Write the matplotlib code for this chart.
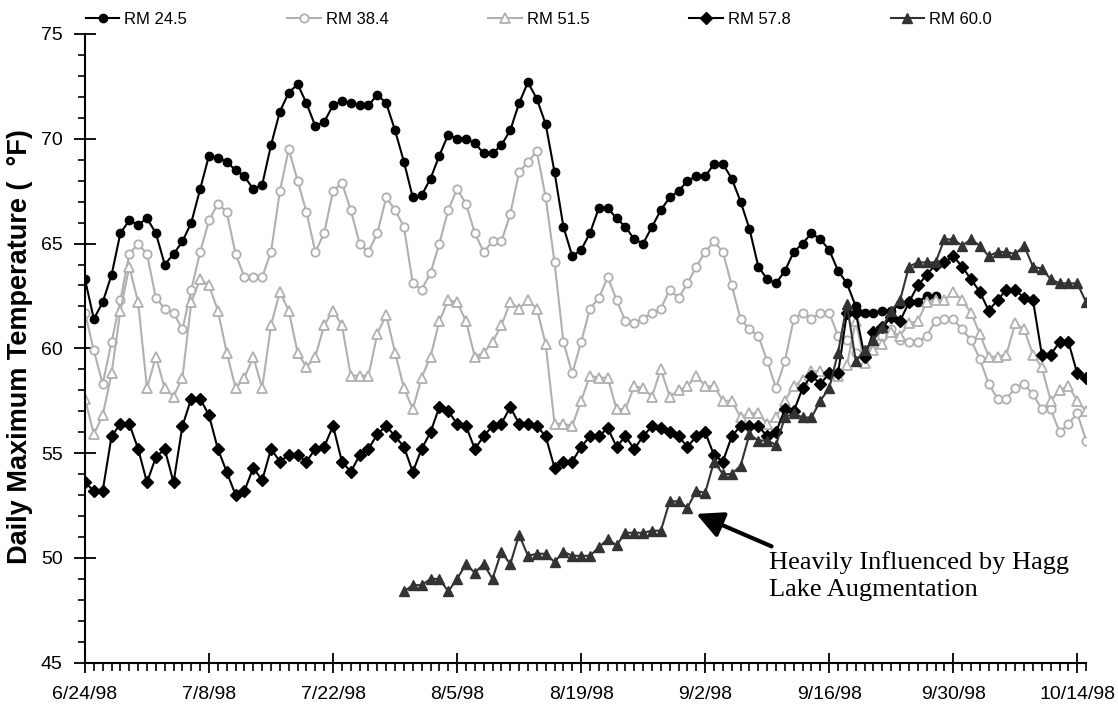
import matplotlib
matplotlib.use("Agg")
import matplotlib.pyplot as plt
import matplotlib.dates as mdates
from matplotlib.ticker import MultipleLocator
import pandas as pd

plt.rcParams['font.family'] = ['Liberation Sans', 'DejaVu Sans']

# Daily maximum stream temperatures (deg F), one value per day from 6/24/98
dates = pd.date_range('1998-06-24', periods=114, freq='D')

rm_24_5 = [
    63.3, 61.4, 62.2, 63.5, 65.5, 66.1, 65.9, 66.2, 65.5, 64.0,
    64.5, 65.1, 66.0, 67.6, 69.2, 69.1, 68.9, 68.5, 68.2, 67.6,
    67.8, 69.7, 71.3, 72.2, 72.6, 71.7, 70.6, 70.8, 71.6, 71.8,
    71.7, 71.6, 71.6, 72.1, 71.7, 70.4, 68.9, 67.2, 67.3, 68.1,
    69.2, 70.2, 70.0, 70.0, 69.8, 69.3, 69.3, 69.7, 70.4, 71.7,
    72.7, 71.9, 70.7, 68.4, 65.8, 64.4, 64.7, 65.5, 66.7, 66.7,
    66.2, 65.8, 65.2, 65.0, 65.8, 66.6, 67.2, 67.5, 68.0, 68.2,
    68.2, 68.8, 68.8, 68.1, 67.0, 65.7, 63.9, 63.3, 63.1, 63.7,
    64.6, 65.0, 65.5, 65.2, 64.7, 63.7, 63.1, 62.0, 61.7, 61.7,
    61.8, 61.8, 62.1, 62.2, 62.2, 62.5, 62.5,
]

rm_38_4 = [
    61.7, 59.9, 58.3, 60.3, 62.3, 64.5, 65.0, 64.5, 62.4, 61.9,
    61.7, 60.9, 62.8, 64.6, 66.1, 66.9, 66.5, 64.5, 63.4, 63.4,
    63.4, 64.6, 67.5, 69.5, 68.0, 66.5, 64.6, 65.5, 67.5, 67.9,
    66.6, 65.0, 64.6, 65.5, 67.2, 66.6, 65.8, 63.1, 62.8, 63.6,
    65.0, 66.6, 67.6, 66.9, 65.5, 64.6, 65.1, 65.1, 66.4, 68.4,
    68.9, 69.4, 67.2, 64.1, 60.3, 58.8, 60.3, 61.9, 62.4, 63.4,
    62.3, 61.3, 61.2, 61.4, 61.7, 61.9, 62.8, 62.4, 63.1, 63.9,
    64.6, 65.1, 64.6, 63.0, 61.4, 60.9, 60.6, 59.4, 58.1, 59.4,
    61.4, 61.7, 61.4, 61.7, 61.7, 60.6, 60.4, 59.8, 59.9, 60.2,
    60.6, 60.9, 60.4, 60.3, 60.3, 60.6, 61.3, 61.4, 61.4, 60.9,
    60.4, 59.5, 58.3, 57.6, 57.6, 58.1, 58.3, 57.8, 57.1, 57.1,
    56.0, 56.4, 56.9, 55.6,
]

rm_51_5 = [
    57.6, 55.9, 56.8, 58.8, 61.8, 63.9, 62.2, 58.1, 59.6, 58.1,
    57.7, 58.6, 62.2, 63.3, 63.0, 61.8, 59.8, 58.1, 58.6, 59.6,
    58.1, 61.1, 62.7, 61.8, 59.8, 59.1, 59.6, 61.1, 61.8, 61.1,
    58.7, 58.7, 58.7, 60.7, 61.6, 59.8, 58.1, 57.1, 58.6, 59.6,
    61.3, 62.3, 62.2, 61.3, 59.6, 59.8, 60.3, 61.1, 62.2, 61.9,
    62.3, 61.9, 60.2, 56.4, 56.4, 56.3, 57.5, 58.7, 58.6, 58.6,
    57.1, 57.1, 58.2, 58.1, 57.7, 59.0, 57.7, 58.0, 58.2, 58.7,
    58.2, 58.2, 57.5, 57.5, 56.7, 56.9, 56.9, 56.4, 56.7, 57.5,
    58.2, 58.5, 58.9, 58.9, 58.8, 58.7, 59.2, 61.3, 59.3, 59.9,
    60.2, 60.8, 60.6, 61.2, 61.3, 62.2, 62.3, 62.3, 62.7, 62.3,
    61.7, 60.7, 59.6, 59.6, 59.7, 61.2, 60.9, 59.7, 59.1, 57.5,
    58.0, 58.2, 57.5, 57.0,
]

rm_57_8 = [
    53.6, 53.2, 53.2, 55.8, 56.4, 56.4, 55.2, 53.6, 54.8, 55.2,
    53.6, 56.3, 57.6, 57.6, 56.8, 55.2, 54.1, 53.0, 53.2, 54.3,
    53.7, 55.2, 54.6, 54.9, 54.9, 54.6, 55.2, 55.3, 56.3, 54.6,
    54.1, 54.9, 55.2, 55.9, 56.3, 55.8, 55.3, 54.1, 55.2, 56.0,
    57.2, 57.0, 56.4, 56.3, 55.2, 55.8, 56.3, 56.4, 57.2, 56.4,
    56.4, 56.3, 55.8, 54.3, 54.6, 54.6, 55.3, 55.8, 55.8, 56.2,
    55.3, 55.8, 55.2, 55.8, 56.3, 56.2, 56.0, 55.8, 55.3, 55.8,
    56.0, 54.9, 54.6, 55.8, 56.3, 56.3, 56.3, 55.8, 56.0, 57.1,
    57.0, 58.1, 58.7, 58.3, 58.8, 58.8, 61.7, 61.7, 59.6, 60.8,
    61.0, 61.5, 61.3, 62.2, 63.0, 63.5, 64.0, 64.1, 64.4, 63.9,
    63.3, 62.7, 61.8, 62.3, 62.8, 62.8, 62.4, 62.3, 59.7, 59.7,
    60.3, 60.3, 58.8, 58.6,
]

# RM 60.0 record begins on 7/30/98
rm_60_0_start = 36
rm_60_0 = [
    48.4, 48.7, 48.7, 49.0, 49.0, 48.4, 49.0, 49.7, 49.3, 49.7,
    49.0, 50.3, 49.7, 51.1, 50.1, 50.2, 50.2, 49.8, 50.3, 50.1,
    50.1, 50.1, 50.5, 50.9, 50.6, 51.2, 51.2, 51.2, 51.3, 51.3,
    52.7, 52.7, 52.4, 53.2, 53.1, 54.6, 54.0, 54.0, 54.4, 55.9,
    55.6, 55.6, 55.4, 56.7, 56.9, 56.7, 56.7, 57.5, 58.1, 59.8,
    62.1, 59.4, 59.9, 60.4, 61.0, 61.8, 62.3, 63.9, 64.1, 64.1,
    64.1, 65.2, 65.2, 64.9, 65.2, 64.9, 64.4, 64.6, 64.6, 64.5,
    64.9, 63.9, 63.8, 63.3, 63.1, 63.1, 63.1, 62.2,
]

tick_dates = dates[::14]
tick_labels = [f'{d.month}/{d.day}/98' for d in tick_dates]

LIGHT = '#b0b0b0'
DARK = '#333333'

fig = plt.figure(figsize=(11.18, 7.08), dpi=100, facecolor='white')
ax = fig.add_axes([0.076, 0.064, 0.8955, 0.888])

series = [
    ('RM 24.5', dates[:len(rm_24_5)], rm_24_5,
     dict(color='black', marker='o', ms=6, mfc='black', mec='black')),
    ('RM 38.4', dates[:len(rm_38_4)], rm_38_4,
     dict(color=LIGHT, marker='o', ms=6, mfc='white', mec=LIGHT, mew=1.3)),
    ('RM 51.5', dates[:len(rm_51_5)], rm_51_5,
     dict(color=LIGHT, marker='^', ms=7, mfc='white', mec=LIGHT, mew=1.3)),
    ('RM 57.8', dates[:len(rm_57_8)], rm_57_8,
     dict(color='black', marker='D', ms=6, mfc='black', mec='black')),
    ('RM 60.0', dates[rm_60_0_start:rm_60_0_start + len(rm_60_0)], rm_60_0,
     dict(color=DARK, marker='^', ms=7, mfc=DARK, mec=DARK)),
]

for name, x, y, style in series:
    ax.plot(x, y, lw=1.5, label=name, **style)

ax.set_ylim(45, 75)
ax.set_xlim(dates[0], dates[-1])
ax.yaxis.set_major_locator(MultipleLocator(5))
ax.yaxis.set_minor_locator(MultipleLocator(1))
ax.set_xticks(tick_dates)
ax.set_xticklabels(tick_labels)
ax.xaxis.set_minor_locator(mdates.DayLocator())

for side in ('top', 'right'):
    ax.spines[side].set_visible(False)
for side in ('left', 'bottom'):
    ax.spines[side].set_linewidth(1.5)

ax.tick_params(axis='both', which='major', labelsize=14, width=1.3, color='black')
ax.tick_params(axis='x', which='major', direction='inout', length=15, pad=9)
ax.tick_params(axis='x', which='minor', direction='out', length=6, width=1.2)
ax.tick_params(axis='y', which='major', direction='inout', length=16, pad=8)
ax.tick_params(axis='y', which='minor', direction='out', length=5, width=1.2)

fig.text(20 / 1118, 0.51, 'Daily Maximum Temperature (  °F)', rotation=90,
         ha='center', va='center', fontsize=19.5, fontweight='bold')

fig.legend(loc='lower left', bbox_to_anchor=(0.077, 0.962, 0.81, 0.035),
           mode='expand', ncol=5, frameon=False, fontsize=12,
           handlelength=2.0, handletextpad=0.3, borderaxespad=0, borderpad=0)

# Callout for the Hagg Lake influenced reach
ax.annotate('', xy=(dates[69], 52.1), xytext=(dates[77] + pd.Timedelta(hours=12), 50.55),
            arrowprops=dict(arrowstyle='-|>', lw=3, color='black', mutation_scale=40,
                            shrinkA=0, shrinkB=0))
ax.text(dates[77] + pd.Timedelta(hours=6), 50.35,
        'Heavily Influenced by Hagg\nLake Augmentation',
        family=['Liberation Serif', 'DejaVu Serif'], fontsize=19,
        ha='left', va='top', linespacing=1.3)

fig.savefig('out.png', dpi=100)
